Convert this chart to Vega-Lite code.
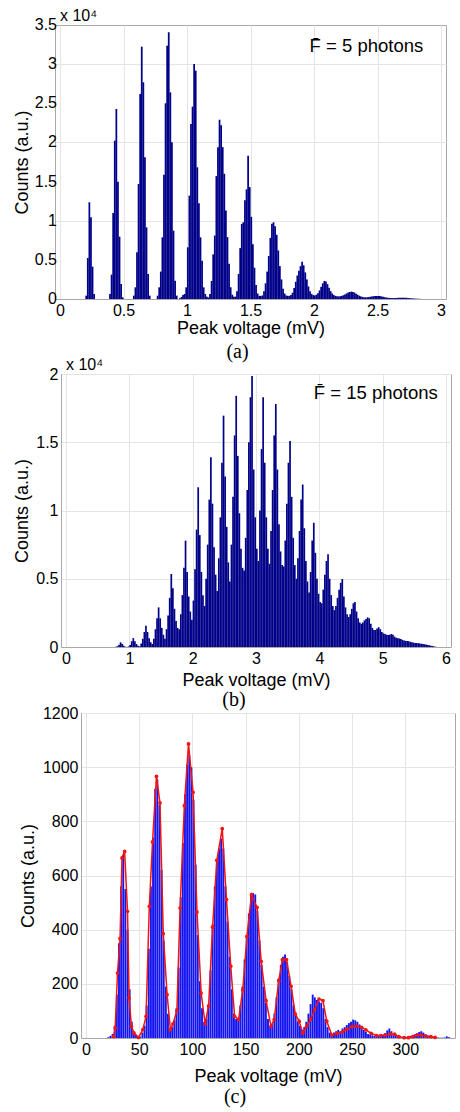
{
 "$schema": "https://vega.github.io/schema/vega-lite/v6.json",
 "background": "white",
 "padding": {"left": 0, "top": 7, "right": 0, "bottom": 0},
 "spacing": -7,
 "config": {
  "font": "Liberation Sans",
  "view": {"stroke": "#a8a8a8", "strokeWidth": 1},
  "axis": {"grid": true, "gridColor": "#e4e4e4", "gridWidth": 1, "domainColor": "#a8a8a8", "ticks": false, "tickSize": 0, "labelFont": "Liberation Sans", "labelFontSize": 16, "labelColor": "#000000", "labelPadding": 3, "labelFlush": false, "labelOverlap": false, "titleFont": "Liberation Sans", "titleFontSize": 18, "titleFontWeight": "normal", "titleColor": "#000000"},
  "title": {"font": "Liberation Serif", "fontSize": 20, "fontWeight": "normal", "color": "#000000", "orient": "bottom", "anchor": "middle", "frame": "group"},
  "text": {"font": "Liberation Sans", "color": "#000000"}
 },
 "datasets": {
  "a": [{"v":0.20625,"c":425},{"v":0.21875,"c":5240},{"v":0.23125,"c":12350},{"v":0.24375,"c":10430},{"v":0.25625,"c":4130},{"v":0.26875,"c":640},
{"v":0.39375,"c":640},{"v":0.40625,"c":3110},{"v":0.41875,"c":10985},{"v":0.43125,"c":20225},{"v":0.44375,"c":24270},{"v":0.45625,"c":14990},{"v":0.46875,"c":7960},{"v":0.48125,"c":1915},{"v":0.49375,"c":210},
{"v":0.58125,"c":425},{"v":0.59375,"c":1490},{"v":0.60625,"c":5960},{"v":0.61875,"c":14690},{"v":0.63125,"c":26190},{"v":0.64375,"c":32230},{"v":0.65625,"c":27680},{"v":0.66875,"c":18100},{"v":0.68125,"c":9150},{"v":0.69375,"c":3190},{"v":0.70625,"c":425},
{"v":0.76875,"c":425},{"v":0.78125,"c":1490},{"v":0.79375,"c":3500},{"v":0.80625,"c":7880},{"v":0.81875,"c":15880},{"v":0.83125,"c":25000},{"v":0.84375,"c":32360},{"v":0.85625,"c":34060},{"v":0.86875,"c":26400},{"v":0.88125,"c":20010},{"v":0.89375,"c":8730},{"v":0.90625,"c":2340},{"v":0.91875,"c":425},
{"v":0.94375,"c":100},{"v":0.95625,"c":250},{"v":0.96875,"c":500},{"v":0.98125,"c":640},{"v":0.99375,"c":1490},{"v":1.00625,"c":6600},{"v":1.01875,"c":13200},{"v":1.03125,"c":22350},{"v":1.04375,"c":24570},{"v":1.05625,"c":30020},{"v":1.06875,"c":29170},{"v":1.08125,"c":16820},{"v":1.09375,"c":12220},{"v":1.10625,"c":7880},{"v":1.11875,"c":4900},{"v":1.13125,"c":1490},{"v":1.14375,"c":640},
{"v":1.15625,"c":300},{"v":1.16875,"c":200},{"v":1.18125,"c":640},{"v":1.19375,"c":2300},{"v":1.20625,"c":5700},{"v":1.21875,"c":8100},{"v":1.23125,"c":15700},{"v":1.24375,"c":19400},{"v":1.25625,"c":22900},{"v":1.26875,"c":22200},{"v":1.28125,"c":19400},{"v":1.29375,"c":16000},{"v":1.30625,"c":11300},{"v":1.31875,"c":7900},{"v":1.33125,"c":4500},{"v":1.34375,"c":1500},{"v":1.35625,"c":550},{"v":1.36875,"c":300},
{"v":1.38125,"c":300},{"v":1.39375,"c":1000},{"v":1.40625,"c":3200},{"v":1.41875,"c":6500},{"v":1.43125,"c":9600},{"v":1.44375,"c":9800},{"v":1.45625,"c":12600},{"v":1.46875,"c":14000},{"v":1.48125,"c":18300},{"v":1.49375,"c":14300},{"v":1.50625,"c":10500},{"v":1.51875,"c":7000},{"v":1.53125,"c":4000},{"v":1.54375,"c":1800},{"v":1.55625,"c":700},{"v":1.56875,"c":400},
{"v":1.58125,"c":400},{"v":1.59375,"c":450},{"v":1.60625,"c":1000},{"v":1.61875,"c":2000},{"v":1.63125,"c":3500},{"v":1.64375,"c":5500},{"v":1.65625,"c":7800},{"v":1.66875,"c":9600},{"v":1.68125,"c":9800},{"v":1.69375,"c":9300},{"v":1.70625,"c":8200},{"v":1.71875,"c":6200},{"v":1.73125,"c":4200},{"v":1.74375,"c":2500},{"v":1.75625,"c":1300},{"v":1.76875,"c":700},{"v":1.78125,"c":450},{"v":1.79375,"c":400},
{"v":1.80625,"c":400},{"v":1.81875,"c":500},{"v":1.83125,"c":800},{"v":1.84375,"c":1400},{"v":1.85625,"c":2200},{"v":1.86875,"c":3000},{"v":1.88125,"c":3600},{"v":1.89375,"c":4200},{"v":1.90625,"c":4760},{"v":1.91875,"c":4300},{"v":1.93125,"c":3400},{"v":1.94375,"c":2500},{"v":1.95625,"c":1600},{"v":1.96875,"c":1000},{"v":1.98125,"c":650},{"v":1.99375,"c":500},
{"v":2.00625,"c":450},{"v":2.01875,"c":550},{"v":2.03125,"c":750},{"v":2.04375,"c":1100},{"v":2.05625,"c":1550},{"v":2.06875,"c":2000},{"v":2.08125,"c":2300},{"v":2.09375,"c":2250},{"v":2.10625,"c":1900},{"v":2.11875,"c":1450},{"v":2.13125,"c":1000},{"v":2.14375,"c":700},{"v":2.15625,"c":500},{"v":2.16875,"c":400},{"v":2.18125,"c":350},
{"v":2.19375,"c":330},{"v":2.20625,"c":350},{"v":2.21875,"c":400},{"v":2.23125,"c":480},{"v":2.24375,"c":580},{"v":2.25625,"c":700},{"v":2.26875,"c":820},{"v":2.28125,"c":900},{"v":2.29375,"c":940},{"v":2.30625,"c":900},{"v":2.31875,"c":820},{"v":2.33125,"c":680},{"v":2.34375,"c":540},{"v":2.35625,"c":420},{"v":2.36875,"c":330},{"v":2.38125,"c":270},
{"v":2.39375,"c":230},{"v":2.40625,"c":210},{"v":2.41875,"c":220},{"v":2.43125,"c":250},{"v":2.44375,"c":290},{"v":2.45625,"c":330},{"v":2.46875,"c":360},{"v":2.48125,"c":380},{"v":2.49375,"c":390},{"v":2.50625,"c":390},{"v":2.51875,"c":370},{"v":2.53125,"c":330},{"v":2.54375,"c":280},{"v":2.55625,"c":230},{"v":2.56875,"c":190},{"v":2.58125,"c":160},{"v":2.59375,"c":140},
{"v":2.60625,"c":130},{"v":2.61875,"c":120},{"v":2.63125,"c":120},{"v":2.64375,"c":130},{"v":2.65625,"c":140},{"v":2.66875,"c":150},{"v":2.68125,"c":160},{"v":2.69375,"c":165},{"v":2.70625,"c":165},{"v":2.71875,"c":160},{"v":2.73125,"c":150},{"v":2.74375,"c":130},{"v":2.75625,"c":110},{"v":2.76875,"c":90},{"v":2.78125,"c":70},{"v":2.79375,"c":55},{"v":2.80625,"c":40},{"v":2.81875,"c":30},{"v":2.83125,"c":20},{"v":2.84375,"c":10}],
  "b": [{"v":0.7875,"c":20},{"v":0.8125,"c":60},{"v":0.8375,"c":170},{"v":0.8625,"c":340},{"v":0.8875,"c":230},{"v":0.9125,"c":90},{"v":0.9375,"c":20},
{"v":0.9875,"c":40},{"v":1.0125,"c":150},{"v":1.0375,"c":420},{"v":1.0625,"c":650},{"v":1.0875,"c":430},{"v":1.1125,"c":220},{"v":1.1375,"c":90},{"v":1.1625,"c":50},
{"v":1.1875,"c":250},{"v":1.2125,"c":600},{"v":1.2375,"c":1100},{"v":1.2625,"c":1550},{"v":1.2875,"c":1100},{"v":1.3125,"c":650},{"v":1.3375,"c":350},{"v":1.3625,"c":220},
{"v":1.3875,"c":600},{"v":1.4125,"c":1300},{"v":1.4375,"c":2100},{"v":1.4625,"c":2900},{"v":1.4875,"c":2100},{"v":1.5125,"c":1400},{"v":1.5375,"c":900},{"v":1.5625,"c":600},
{"v":1.5875,"c":1300},{"v":1.6125,"c":2300},{"v":1.6375,"c":3600},{"v":1.6625,"c":5350},{"v":1.6875,"c":4300},{"v":1.7125,"c":2800},{"v":1.7375,"c":1900},{"v":1.7625,"c":1400},{"v":1.7875,"c":1300},
{"v":1.8125,"c":2400},{"v":1.8375,"c":3800},{"v":1.8625,"c":5800},{"v":1.8875,"c":7790},{"v":1.9125,"c":5500},{"v":1.9375,"c":3700},{"v":1.9625,"c":2600},{"v":1.9875,"c":2000},
{"v":2.0125,"c":3400},{"v":2.0375,"c":5700},{"v":2.0625,"c":8600},{"v":2.0875,"c":11700},{"v":2.1125,"c":8200},{"v":2.1375,"c":5500},{"v":2.1625,"c":3800},{"v":2.1875,"c":3000},
{"v":2.2125,"c":5000},{"v":2.2375,"c":7500},{"v":2.2625,"c":10800},{"v":2.2875,"c":13900},{"v":2.3125,"c":10500},{"v":2.3375,"c":7300},{"v":2.3625,"c":5300},{"v":2.3875,"c":4100},
{"v":2.4125,"c":6500},{"v":2.4375,"c":9500},{"v":2.4625,"c":13500},{"v":2.4875,"c":16950},{"v":2.5125,"c":12500},{"v":2.5375,"c":8800},{"v":2.5625,"c":6200},{"v":2.5875,"c":4800},
{"v":2.6125,"c":7500},{"v":2.6375,"c":11000},{"v":2.6625,"c":15500},{"v":2.6875,"c":18400},{"v":2.7125,"c":14000},{"v":2.7375,"c":9800},{"v":2.7625,"c":7200},{"v":2.7875,"c":5800},{"v":2.8125,"c":5600},
{"v":2.8375,"c":8000},{"v":2.8625,"c":11500},{"v":2.8875,"c":15000},{"v":2.9125,"c":18300},{"v":2.9375,"c":19850},{"v":2.9625,"c":13000},{"v":2.9875,"c":9500},{"v":3.0125,"c":7200},{"v":3.0375,"c":6300},
{"v":3.0625,"c":10000},{"v":3.0875,"c":14500},{"v":3.1125,"c":18300},{"v":3.1375,"c":13500},{"v":3.1625,"c":9500},{"v":3.1875,"c":7200},{"v":3.2125,"c":6100},
{"v":3.2375,"c":8500},{"v":3.2625,"c":11500},{"v":3.2875,"c":15500},{"v":3.3125,"c":17800},{"v":3.3375,"c":13000},{"v":3.3625,"c":9000},{"v":3.3875,"c":7000},{"v":3.4125,"c":6000},{"v":3.4375,"c":5900},
{"v":3.4625,"c":7800},{"v":3.4875,"c":10500},{"v":3.5125,"c":13500},{"v":3.5375,"c":15100},{"v":3.5625,"c":11000},{"v":3.5875,"c":8000},{"v":3.6125,"c":6000},{"v":3.6375,"c":5000},
{"v":3.6625,"c":6500},{"v":3.6875,"c":8500},{"v":3.7125,"c":10800},{"v":3.7375,"c":11900},{"v":3.7625,"c":8700},{"v":3.7875,"c":6300},{"v":3.8125,"c":4800},{"v":3.8375,"c":4000},
{"v":3.8625,"c":5500},{"v":3.8875,"c":7800},{"v":3.9125,"c":9100},{"v":3.9375,"c":6900},{"v":3.9625,"c":5000},{"v":3.9875,"c":3900},{"v":4.0125,"c":3300},{"v":4.0375,"c":3200},
{"v":4.0625,"c":4200},{"v":4.0875,"c":5300},{"v":4.1125,"c":6300},{"v":4.1375,"c":6800},{"v":4.1625,"c":5000},{"v":4.1875,"c":3800},{"v":4.2125,"c":3000},{"v":4.2375,"c":2700},
{"v":4.2625,"c":3000},{"v":4.2875,"c":3600},{"v":4.3125,"c":4200},{"v":4.3375,"c":4700},{"v":4.3625,"c":4980},{"v":4.3875,"c":3700},{"v":4.4125,"c":2900},{"v":4.4375,"c":2400},{"v":4.4625,"c":2200},
{"v":4.4875,"c":2400},{"v":4.5125,"c":2800},{"v":4.5375,"c":3200},{"v":4.5625,"c":3300},{"v":4.5875,"c":2600},{"v":4.6125,"c":2100},{"v":4.6375,"c":1800},{"v":4.6625,"c":1700},
{"v":4.6875,"c":1800},{"v":4.7125,"c":1950},{"v":4.7375,"c":2050},{"v":4.7625,"c":2170},{"v":4.7875,"c":2100},{"v":4.8125,"c":1700},{"v":4.8375,"c":1400},{"v":4.8625,"c":1250},
{"v":4.8875,"c":1250},{"v":4.9125,"c":1350},{"v":4.9375,"c":1450},{"v":4.9625,"c":1300},{"v":4.9875,"c":1100},{"v":5.0125,"c":1000},{"v":5.0375,"c":950},{"v":5.0625,"c":900},
{"v":5.0875,"c":880},{"v":5.1125,"c":900},{"v":5.1375,"c":950},{"v":5.1625,"c":900},{"v":5.1875,"c":760},{"v":5.2125,"c":680},{"v":5.2375,"c":650},{"v":5.2625,"c":620},{"v":5.2875,"c":580},{"v":5.3125,"c":520},{"v":5.3375,"c":480},{"v":5.3625,"c":450},{"v":5.3875,"c":440},{"v":5.4125,"c":420},{"v":5.4375,"c":380},{"v":5.4625,"c":340},{"v":5.4875,"c":320},{"v":5.5125,"c":300},{"v":5.5375,"c":290},{"v":5.5625,"c":280},{"v":5.5875,"c":260},{"v":5.6125,"c":240},{"v":5.6375,"c":220},{"v":5.6625,"c":200},{"v":5.6875,"c":180},{"v":5.7125,"c":150},{"v":5.7375,"c":130},{"v":5.7625,"c":100},{"v":5.7875,"c":80},{"v":5.8125,"c":40},{"v":5.8375,"c":20}],
  "cbars": [{"v":21,"c":3},{"v":23,"c":8},{"v":25,"c":15},{"v":27,"c":45},{"v":29,"c":160},{"v":31,"c":350},{"v":33,"c":560},{"v":35,"c":677},{"v":37,"c":550},{"v":39,"c":400},{"v":41,"c":180},{"v":43,"c":60},{"v":45,"c":25},{"v":47,"c":12},{"v":49,"c":6},{"v":51,"c":5},{"v":53,"c":20},{"v":55,"c":45},
{"v":57,"c":120},{"v":59,"c":330},{"v":61,"c":560},{"v":63,"c":740},{"v":65,"c":920},{"v":67,"c":955},{"v":69,"c":860},{"v":71,"c":620},{"v":73,"c":360},{"v":75,"c":190},{"v":77,"c":90},{"v":79,"c":35},{"v":81,"c":40},{"v":83,"c":65},
{"v":85,"c":110},{"v":87,"c":260},{"v":89,"c":520},{"v":91,"c":720},{"v":93,"c":900},{"v":95,"c":1010},{"v":97,"c":1045},{"v":99,"c":1000},{"v":101,"c":880},{"v":103,"c":640},{"v":105,"c":380},{"v":107,"c":210},{"v":109,"c":110},{"v":111,"c":60},
{"v":113,"c":70},{"v":115,"c":120},{"v":117,"c":250},{"v":119,"c":420},{"v":121,"c":560},{"v":123,"c":650},{"v":125,"c":700},{"v":127,"c":736},{"v":129,"c":700},{"v":131,"c":560},{"v":133,"c":430},{"v":135,"c":300},{"v":137,"c":180},{"v":139,"c":90},
{"v":141,"c":70},{"v":143,"c":75},{"v":145,"c":120},{"v":147,"c":190},{"v":149,"c":290},{"v":151,"c":380},{"v":153,"c":460},{"v":155,"c":530},{"v":157,"c":535},{"v":159,"c":530},{"v":161,"c":470},{"v":163,"c":360},{"v":165,"c":270},{"v":167,"c":190},{"v":169,"c":130},{"v":171,"c":70},
{"v":173,"c":45},{"v":175,"c":50},{"v":177,"c":90},{"v":179,"c":150},{"v":181,"c":220},{"v":183,"c":270},{"v":185,"c":300},{"v":187,"c":308},{"v":189,"c":280},{"v":191,"c":230},{"v":193,"c":180},{"v":195,"c":120},{"v":197,"c":90},{"v":199,"c":60},
{"v":201,"c":45},{"v":203,"c":30},{"v":205,"c":40},{"v":207,"c":60},{"v":209,"c":90},{"v":211,"c":125},{"v":213,"c":160},{"v":215,"c":150},{"v":217,"c":140},{"v":219,"c":135},{"v":221,"c":130},{"v":223,"c":110},{"v":225,"c":70},{"v":227,"c":40},
{"v":229,"c":20},{"v":231,"c":15},{"v":233,"c":20},{"v":235,"c":25},{"v":237,"c":30},{"v":239,"c":25},{"v":241,"c":35},{"v":243,"c":40},{"v":245,"c":48},{"v":247,"c":55},{"v":249,"c":60},{"v":251,"c":68},{"v":253,"c":65},{"v":255,"c":60},{"v":257,"c":50},{"v":259,"c":40},{"v":261,"c":30},{"v":263,"c":22},{"v":265,"c":15},{"v":267,"c":12},
{"v":269,"c":10},{"v":271,"c":8},{"v":273,"c":6},{"v":275,"c":7},{"v":277,"c":10},{"v":279,"c":12},{"v":281,"c":18},{"v":283,"c":28},{"v":285,"c":35},{"v":287,"c":25},{"v":289,"c":15},{"v":291,"c":10},{"v":293,"c":6},{"v":295,"c":5},{"v":297,"c":4},{"v":299,"c":5},{"v":301,"c":4},{"v":303,"c":6},{"v":305,"c":8},{"v":307,"c":10},{"v":309,"c":14},{"v":311,"c":18},{"v":313,"c":22},{"v":315,"c":25},{"v":317,"c":20},{"v":319,"c":14},{"v":321,"c":10},{"v":323,"c":6},{"v":325,"c":4},{"v":327,"c":3},{"v":329,"c":2},{"v":331,"c":2},{"v":333,"c":1},{"v":335,"c":1},{"v":337,"c":2},{"v":339,"c":6},{"v":341,"c":3}],
  "cfit": [{"v":25.9,"c":6},{"v":27.4,"c":37},{"v":29.6,"c":240},{"v":32.0,"c":367},{"v":33.8,"c":665},{"v":36.3,"c":689},{"v":39.0,"c":468},{"v":40.5,"c":148},{"v":42.7,"c":43},{"v":45.1,"c":18},{"v":49.4,"c":2},{"v":53.4,"c":31},{"v":56.4,"c":80},{"v":59.5,"c":486},{"v":62.5,"c":724},{"v":66.2,"c":966},{"v":69.5,"c":868},{"v":72.6,"c":385},{"v":76.2,"c":160},{"v":79.3,"c":31},{"v":81.7,"c":52},{"v":85.4,"c":101},{"v":88.4,"c":480},{"v":92.4,"c":858},{"v":96.3,"c":1086},{"v":100.6,"c":907},{"v":104.3,"c":465},{"v":108.2,"c":166},{"v":111.9,"c":52},{"v":115.2,"c":119},{"v":118.9,"c":409},{"v":122.9,"c":656},{"v":128.0,"c":773},{"v":132.0,"c":511},{"v":136.0,"c":265},{"v":139.6,"c":80},{"v":143.3,"c":68},{"v":147.3,"c":178},{"v":151.2,"c":375},{"v":155.5,"c":529},{"v":160.7,"c":482},{"v":164.6,"c":283},{"v":169.2,"c":138},{"v":173.8,"c":43},{"v":176.8,"c":68},{"v":181.1,"c":212},{"v":184.5,"c":289},{"v":188.4,"c":289},{"v":192.7,"c":191},{"v":196.6,"c":89},{"v":200.3,"c":62},{"v":203.7,"c":18},{"v":207.3,"c":43},{"v":211.0,"c":68},{"v":214.9,"c":105},{"v":218.9,"c":144},{"v":222.6,"c":138},{"v":226.2,"c":62},{"v":231,"c":11},{"v":236,"c":17},{"v":241,"c":23},{"v":245,"c":32},{"v":250,"c":42},{"v":254,"c":44},{"v":259,"c":39},{"v":263,"c":30},{"v":268,"c":17},{"v":273,"c":9},{"v":277,"c":9},{"v":281,"c":11},{"v":286,"c":15},{"v":290,"c":14},{"v":294,"c":5},{"v":299,"c":1},{"v":303,"c":1},{"v":307,"c":5},{"v":311,"c":11},{"v":315,"c":11},{"v":319,"c":7},{"v":324,"c":5},{"v":328,"c":2}],
  "alabels": [{"v":0,"c":35000,"t":"x 10⁴","k":"mult"},{"v":2.86,"c":31500,"t":"F̄ = 5 photons","k":"note"}],
  "aticks": [{"v":0,"c":0,"t":"0"},{"v":0,"c":5000,"t":"0.5"},{"v":0,"c":10000,"t":"1"},{"v":0,"c":15000,"t":"1.5"},{"v":0,"c":20000,"t":"2"},{"v":0,"c":25000,"t":"2.5"},{"v":0,"c":30000,"t":"3"},{"v":0,"c":35000,"t":"3.5"}],
  "blabels": [{"v":0,"c":20000,"t":"x 10⁴","k":"mult"},{"v":5.87,"c":18150,"t":"F̄ = 15 photons","k":"note"}]
 },
 "vconcat": [
  {
   "spacing": 11,
   "hconcat": [
    {"width": 1, "height": 1, "view": {"stroke": null}, "data": {"values": []}, "mark": {"type": "point", "opacity": 0}},
    {
     "width": 391, "height": 274,
     "title": {"text": "(a)", "dx": -13, "offset": 5},
     "layer": [
      {"data": {"name": "a"},
       "mark": {"type": "bar", "width": 1.75, "color": "#000088"},
       "encoding": {
        "x": {"field": "v", "type": "quantitative", "scale": {"domain": [0, 3], "nice": false, "zero": false},
              "axis": {"values": [0, 0.5, 1, 1.5, 2, 2.5, 3], "format": "~g", "title": "Peak voltage (mV)", "titlePadding": 1}},
        "y": {"field": "c", "type": "quantitative", "scale": {"domain": [0, 35000], "nice": false},
              "axis": {"values": [0, 5000, 10000, 15000, 20000, 25000, 30000, 35000], "labels": false, "title": "Counts (a.u.)", "titlePadding": 24}}
       }},
      {"data": {"name": "aticks"},
       "mark": {"type": "text", "align": "right", "baseline": "middle", "dx": -3, "fontSize": 16},
       "encoding": {"x": {"field": "v", "type": "quantitative"}, "y": {"field": "c", "type": "quantitative"}, "text": {"field": "t"}}},
      {"data": {"name": "alabels"}, "transform": [{"filter": "datum.k == 'mult'"}],
       "mark": {"type": "text", "align": "left", "baseline": "bottom", "dy": -1, "fontSize": 16},
       "encoding": {"x": {"field": "v", "type": "quantitative"}, "y": {"field": "c", "type": "quantitative"}, "text": {"field": "t"}}},
      {"data": {"name": "alabels"}, "transform": [{"filter": "datum.k == 'note'"}],
       "mark": {"type": "text", "align": "right", "baseline": "alphabetic", "fontSize": 18.5},
       "encoding": {"x": {"field": "v", "type": "quantitative"}, "y": {"field": "c", "type": "quantitative"}, "text": {"field": "t"}}}
     ]
    }
   ]
  },
  {
   "spacing": 12,
   "hconcat": [
    {"width": 1, "height": 1, "view": {"stroke": null}, "data": {"values": []}, "mark": {"type": "point", "opacity": 0}},
    {
     "width": 390, "height": 273,
     "title": {"text": "(b)", "dx": -22, "offset": 1},
     "layer": [
      {"data": {"name": "b"},
       "mark": {"type": "bar", "width": 1.7, "color": "#000088"},
       "encoding": {
        "x": {"field": "v", "type": "quantitative", "scale": {"domain": [0, 6], "nice": false, "zero": false},
              "axis": {"values": [0, 1, 2, 3, 4, 5, 6], "format": "~g", "title": "Peak voltage (mV)", "titlePadding": 5}},
        "y": {"field": "c", "type": "quantitative", "scale": {"domain": [0, 20000], "nice": false},
              "axis": {"values": [0, 5000, 10000, 15000, 20000], "labelOverlap": false, "labelExpr": "format(datum.value / 10000, '~g')", "title": "Counts (a.u.)", "titlePadding": 4}}
       }},
      {"data": {"name": "blabels"}, "transform": [{"filter": "datum.k == 'mult'"}],
       "mark": {"type": "text", "align": "left", "baseline": "bottom", "dy": -1, "fontSize": 16},
       "encoding": {"x": {"field": "v", "type": "quantitative"}, "y": {"field": "c", "type": "quantitative"}, "text": {"field": "t"}}},
      {"data": {"name": "blabels"}, "transform": [{"filter": "datum.k == 'note'"}],
       "mark": {"type": "text", "align": "right", "baseline": "alphabetic", "fontSize": 18.5},
       "encoding": {"x": {"field": "v", "type": "quantitative"}, "y": {"field": "c", "type": "quantitative"}, "text": {"field": "t"}}}
     ]
    }
   ]
  },
  {
   "spacing": 17,
   "hconcat": [
    {"width": 1, "height": 1, "view": {"stroke": null}, "data": {"values": []}, "mark": {"type": "point", "opacity": 0}},
    {
     "width": 374, "height": 325,
     "title": {"text": "(c)", "dx": -33, "offset": 2},
     "layer": [
      {"data": {"name": "cbars"},
       "mark": {"type": "bar", "width": 1.9, "color": "#1414f0"},
       "encoding": {
        "x": {"field": "v", "type": "quantitative", "scale": {"domain": [0, 342], "nice": false, "zero": false},
              "axis": {"values": [0, 50, 100, 150, 200, 250, 300], "format": "d", "title": "Peak voltage (mV)", "titlePadding": 10}},
        "y": {"field": "c", "type": "quantitative", "scale": {"domain": [0, 1200], "nice": false},
              "axis": {"values": [0, 200, 400, 600, 800, 1000, 1200], "labelOverlap": false, "format": "d", "title": "Counts (a.u.)", "titlePadding": 5}}
       }},
      {"data": {"name": "cfit"},
       "mark": {"type": "line", "color": "#f01414", "strokeWidth": 1.5, "point": {"filled": true, "size": 14, "color": "#f01414"}},
       "encoding": {
        "x": {"field": "v", "type": "quantitative"},
        "y": {"field": "c", "type": "quantitative"}
       }}
     ]
    }
   ]
  }
 ]
}
